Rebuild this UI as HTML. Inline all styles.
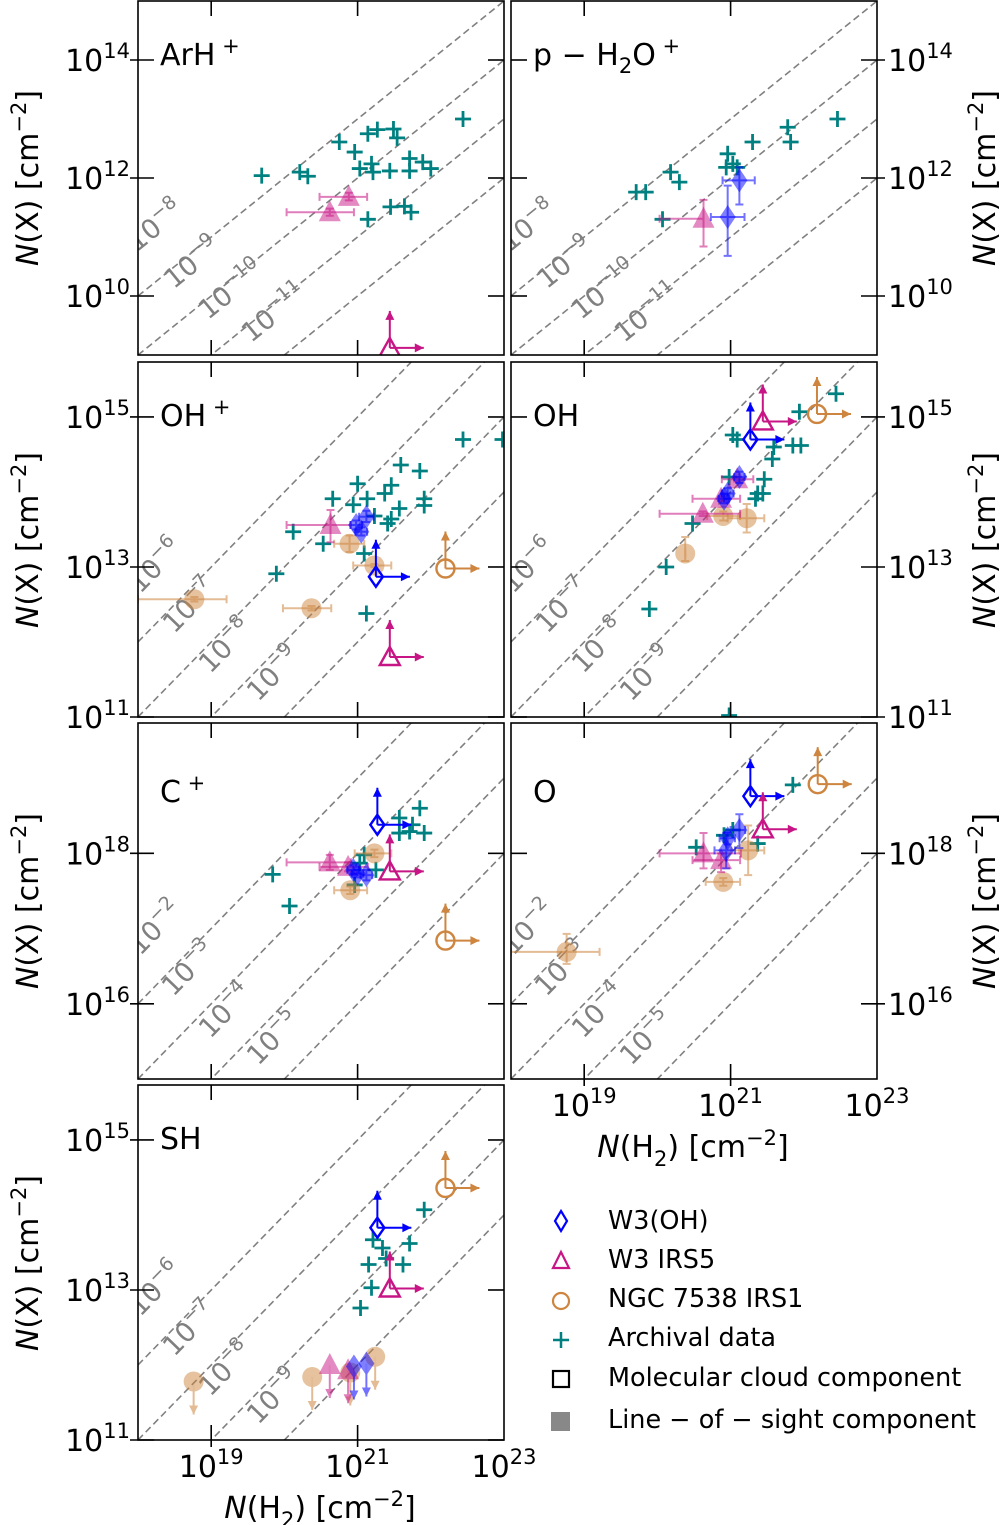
<!DOCTYPE html>
<html><head><meta charset="utf-8"><style>
html,body{margin:0;padding:0;background:#fff}
svg{display:block;font-family:"DejaVu Sans","Liberation Sans",sans-serif}
</style></head><body>
<svg id="fig" width="1000" height="1525" viewBox="0 0 1000 1525" xmlns="http://www.w3.org/2000/svg">
<g id="static">
  <text x="38" y="178" font-size="30" transform="rotate(-90 38 178)" text-anchor="middle"><tspan font-style="italic">N</tspan>(X) [cm<tspan dy="-12" font-size="21">−2</tspan><tspan dy="12">]</tspan></text>
  <text x="38" y="540" font-size="30" transform="rotate(-90 38 540)" text-anchor="middle"><tspan font-style="italic">N</tspan>(X) [cm<tspan dy="-12" font-size="21">−2</tspan><tspan dy="12">]</tspan></text>
  <text x="38" y="901" font-size="30" transform="rotate(-90 38 901)" text-anchor="middle"><tspan font-style="italic">N</tspan>(X) [cm<tspan dy="-12" font-size="21">−2</tspan><tspan dy="12">]</tspan></text>
  <text x="38" y="1263" font-size="30" transform="rotate(-90 38 1263)" text-anchor="middle"><tspan font-style="italic">N</tspan>(X) [cm<tspan dy="-12" font-size="21">−2</tspan><tspan dy="12">]</tspan></text>
  <text x="995" y="178" font-size="30" transform="rotate(-90 995 178)" text-anchor="middle"><tspan font-style="italic">N</tspan>(X) [cm<tspan dy="-12" font-size="21">−2</tspan><tspan dy="12">]</tspan></text>
  <text x="995" y="540" font-size="30" transform="rotate(-90 995 540)" text-anchor="middle"><tspan font-style="italic">N</tspan>(X) [cm<tspan dy="-12" font-size="21">−2</tspan><tspan dy="12">]</tspan></text>
  <text x="995" y="901" font-size="30" transform="rotate(-90 995 901)" text-anchor="middle"><tspan font-style="italic">N</tspan>(X) [cm<tspan dy="-12" font-size="21">−2</tspan><tspan dy="12">]</tspan></text>
  <text x="693" y="1157" font-size="30" text-anchor="middle"><tspan font-style="italic">N</tspan>(H<tspan dy="9" font-size="21">2</tspan><tspan dy="-9">) [cm</tspan><tspan dy="-12" font-size="21">−2</tspan><tspan dy="12">]</tspan></text>
  <text x="320" y="1518" font-size="30" text-anchor="middle"><tspan font-style="italic">N</tspan>(H<tspan dy="9" font-size="21">2</tspan><tspan dy="-9">) [cm</tspan><tspan dy="-12" font-size="21">−2</tspan><tspan dy="12">]</tspan></text>
</g>
<g id="legend" font-size="25.5">
  <g><polygon points="561,1211 567,1221 561,1231 555,1221" fill="none" stroke="#0000ff" stroke-width="2.2"/><text x="608" y="1229">W3(OH)</text></g>
  <g><polygon points="561,1252 569,1268 553,1268" fill="none" stroke="#c71585" stroke-width="2.2"/><text x="608" y="1268">W3 IRS5</text></g>
  <g><circle cx="561" cy="1301" r="8" fill="none" stroke="#cd853f" stroke-width="2.2"/><text x="608" y="1307">NGC 7538 IRS1</text></g>
  <g><path d="M553,1340 H569 M561,1332 V1348" stroke="#008080" stroke-width="2.5"/><text x="608" y="1346">Archival data</text></g>
  <g><rect x="553" y="1371" width="16" height="16" fill="none" stroke="#000" stroke-width="2.2"/><text x="608" y="1386">Molecular cloud component</text></g>
  <g><rect x="551" y="1412" width="19" height="19" fill="#888"/><text x="608" y="1428">Line − of − sight component</text></g>
</g>
<g id="panels"></g>
</svg>
<script>
// ---- data (log10 values). Series: [logNH2, logNX, xlo, xhi, ylo, yhi]
const arhArch = [[22.44,13.00],[21.14,12.75],[21.27,12.82],[21.49,12.83],[21.54,12.68],[20.75,12.61],[20.96,12.44],[21.03,12.16],[21.19,12.24],[21.21,12.10],[21.44,12.12],[21.71,12.33],[21.71,12.12],[21.89,12.27],[22.00,12.16],[20.21,12.10],[20.32,12.03],[19.69,12.04],[21.45,11.51],[21.64,11.52],[21.73,11.42],[21.14,11.30]];
const arhIrs5Los = [[20.88,11.68,20.48,21.13,11.62,11.75],[20.62,11.42,20.03,20.95,11.36,11.48]];
const arhIrs5Lim = [[21.44,9.12]];

const h2oArch = [[19.71,11.76],[19.84,11.76],[20.18,12.10],[20.30,11.93],[20.07,11.30],[20.96,12.41],[20.94,12.18],[21.03,12.24],[21.09,12.18],[21.30,12.61],[21.78,12.86],[21.82,12.61],[22.46,13.00]];
const h2oIrs5Los = [[20.63,11.31,20.03,20.63,10.84,11.63]];
const h2oW3ohLos = [[21.12,11.96,20.89,21.33,11.55,12.18],[20.96,11.34,20.73,21.19,10.68,11.87]];

const ohpArch = [[22.44,14.70],[22.98,14.70],[21.59,14.36],[21.85,14.28],[21.00,14.11],[21.46,14.09],[21.37,13.98],[20.66,13.91],[20.94,13.83],[21.13,13.91],[21.91,13.91],[21.91,13.82],[21.57,13.78],[21.23,13.68],[21.46,13.64],[21.41,13.58],[20.12,13.47],[20.53,13.31],[21.09,13.18],[19.89,12.91],[21.12,12.38]];
const ohpW3ohLos = [[20.98,13.56,20.90,21.06,13.50,13.62],[21.12,13.67,21.02,21.22,13.60,13.75],[21.05,13.47,20.97,21.13,13.42,13.53]];
const ohpIrs5Los = [[20.63,13.56,20.03,20.91,13.33,13.76]];
const ohpNgcLos = [[20.89,13.31,20.68,21.09,13.20,13.42],[21.23,13.02,20.94,21.46,13.0,13.04],[18.77,12.57,18.0,19.21,12.54,12.60],[20.37,12.45,19.98,20.64,12.42,12.48]];
const ohpW3ohLim = [[21.25,12.87]];
const ohpIrs5Lim = [[21.44,11.80]];
const ohpNgcLim = [[22.20,12.98]];

const ohArch = [[22.44,15.31],[21.94,15.07],[21.03,14.76],[21.09,14.70],[21.59,14.60],[21.85,14.62],[21.96,14.62],[21.57,14.44],[21.46,14.17],[21.37,13.98],[21.44,13.98],[21.34,13.91],[20.98,14.20],[20.48,13.58],[20.12,13.00],[19.89,12.44],[20.98,11.02]];
const ohW3ohLos = [[21.12,14.20,21.05,21.19,14.12,14.27],[20.96,13.98,20.88,21.04,13.91,14.05],[20.91,13.91,20.84,20.98,13.85,13.97]];
const ohIrs5Los = [[21.09,14.17,20.88,21.31,14.14,14.20],[20.87,13.91,20.48,21.13,13.88,13.94],[20.62,13.71,20.03,21.13,13.68,13.74]];
const ohNgcLos = [[20.90,13.68,20.68,21.13,13.62,13.74],[21.22,13.65,20.96,21.46,13.46,13.84],[20.38,13.18,20.38,20.38,13.08,13.40]];
const ohW3ohLim = [[21.27,14.70]];
const ohIrs5Lim = [[21.44,14.94]];
const ohNgcLim = [[22.18,15.04]];

const cpArch = [[21.85,18.60],[21.57,18.47],[21.75,18.38],[21.57,18.27],[21.71,18.29],[21.91,18.27],[19.84,17.72],[20.07,17.30],[21.09,17.98],[21.25,17.78],[21.03,17.87],[20.96,17.58]];
const cpW3ohLos = [[20.94,17.78,20.86,21.02,17.72,17.84],[21.12,17.71,21.04,21.20,17.64,17.78],[21.00,17.73,20.92,21.08,17.68,17.78]];
const cpIrs5Los = [[20.62,17.88,20.03,20.91,17.78,17.98],[20.87,17.82,20.48,21.14,17.76,17.88]];
const cpNgcLos = [[21.23,18.00,20.96,21.46,17.95,18.05],[20.90,17.51,20.68,21.13,17.46,17.56]];
const cpW3ohLim = [[21.27,18.38]];
const cpIrs5Lim = [[21.44,17.76]];
const cpNgcLim = [[22.20,16.84]];

const oArch = [[21.85,18.91],[21.37,18.13],[20.53,18.08],[20.91,18.24],[21.03,18.31]];
const oW3ohLos = [[21.12,18.31,21.00,21.20,18.07,18.52],[20.96,18.20,20.85,21.06,18.12,18.28],[20.94,18.04,20.78,21.06,17.80,18.27]];
const oIrs5Los = [[20.63,18.00,20.03,21.14,17.80,18.27],[20.87,17.91,20.48,21.13,17.75,18.00]];
const oNgcLos = [[21.24,18.04,21.01,21.46,17.71,18.37],[20.90,17.62,20.66,21.13,17.57,17.67],[18.76,16.69,18.00,19.21,16.53,16.93]];
const oW3ohLim = [[21.27,18.76]];
const oIrs5Lim = [[21.44,18.32]];
const oNgcLim = [[22.19,18.92]];

const shArch = [[21.91,14.07],[21.21,13.67],[21.71,13.62],[21.34,13.56],[21.39,13.42],[21.15,13.34],[21.62,13.34],[21.19,13.03],[21.04,12.76]];
const shW3ohLim = [[21.27,13.83]];
const shIrs5Lim = [[21.44,13.02]];
const shNgcLim = [[22.20,14.36]];
const shNgcUpper = [[18.76,11.78],[20.38,11.84],[21.24,12.11],[20.90,11.90]];
const shIrs5Upper = [[20.62,12.00],[20.87,11.93]];
const shW3ohUpper = [[20.95,11.98],[21.12,12.02]];

const rowYTicks = [[10,12,14],[11,13,15],[16,18],[11,13,15]];
const xTickVals = [19,21,23];

// ---- layout
const NS = 'http://www.w3.org/2000/svg';
const C = {w3oh:'#0000ff', irs5:'#c71585', ngc:'#cd853f', arch:'#008080'};
const panels = [
 {id:'arh', label:['ArH','+'], x0:138,y0:1,w:366,h:354,ymin:9,ymax:15,abund:[-8,-9,-10,-11],lab:[[161,233],[198,270],[237,297],[280,320]],left:true,right:false,row:0,
  arch:arhArch, los:{irs5:arhIrs5Los}, lim:{irs5:arhIrs5Lim}},
 {id:'h2o', label:['p − H','2','O','+'], x0:511,y0:1,w:366,h:354,ymin:9,ymax:15,abund:[-8,-9,-10,-11],lab:[[534,233],[571,270],[610,297],[653,320]],left:false,right:true,row:0,
  arch:h2oArch, los:{irs5:h2oIrs5Los,w3oh:h2oW3ohLos}, lim:{}},
 {id:'ohp', label:['OH','+'], x0:138,y0:362,w:366,h:355,ymin:11,ymax:15.733,abund:[-6,-7,-8,-9],lab:[[162,572],[196,612],[232,652],[280,680]],left:true,right:false,row:1,
  arch:ohpArch, los:{ngc:ohpNgcLos,irs5:ohpIrs5Los,w3oh:ohpW3ohLos}, lim:{w3oh:ohpW3ohLim,irs5:ohpIrs5Lim,ngc:ohpNgcLim}},
 {id:'oh', label:['OH'], x0:511,y0:362,w:366,h:355,ymin:11,ymax:15.733,abund:[-6,-7,-8,-9],lab:[[535,572],[569,612],[605,652],[653,680]],left:false,right:true,row:1,
  arch:ohArch, los:{ngc:ohNgcLos,irs5:ohIrs5Los,w3oh:ohW3ohLos}, lim:{w3oh:ohW3ohLim,irs5:ohIrs5Lim,ngc:ohNgcLim}},
 {id:'cp', label:['C','+'], x0:138,y0:723,w:366,h:356,ymin:15,ymax:19.733,abund:[-2,-3,-4,-5],lab:[[162,934],[195,975],[232,1017],[280,1044]],left:true,right:false,row:2,
  arch:cpArch, los:{ngc:cpNgcLos,irs5:cpIrs5Los,w3oh:cpW3ohLos}, lim:{w3oh:cpW3ohLim,irs5:cpIrs5Lim,ngc:cpNgcLim}},
 {id:'o', label:['O'], x0:511,y0:723,w:366,h:356,ymin:15,ymax:19.733,abund:[-2,-3,-4,-5],lab:[[535,934],[568,975],[605,1017],[653,1044]],left:false,right:true,row:2,bottomLabels:true,
  arch:oArch, los:{ngc:oNgcLos,irs5:oIrs5Los,w3oh:oW3ohLos}, lim:{w3oh:oW3ohLim,irs5:oIrs5Lim,ngc:oNgcLim}},
 {id:'sh', label:['SH'], x0:138,y0:1085,w:366,h:355,ymin:11,ymax:15.733,abund:[-6,-7,-8,-9],lab:[[162,1295],[196,1335],[232,1375],[280,1403]],left:true,right:false,row:3,bottomLabels:true,
  arch:shArch, los:{}, lim:{w3oh:shW3ohLim,irs5:shIrs5Lim,ngc:shNgcLim}, upper:{ngc:shNgcUpper,irs5:shIrs5Upper,w3oh:shW3ohUpper}}
];

function mk(tag, attrs, parent){
  const el = document.createElementNS(NS, tag);
  for (const k in attrs) el.setAttribute(k, attrs[k]);
  parent.appendChild(el);
  return el;
}
const root = document.getElementById('panels');
const defs = mk('defs', {}, root);

function markerShape(kind, x, y, g, fill, stroke, opacity){
  let el;
  const open = fill==='none';
  if (kind==='w3oh') el = mk('polygon',{points: open ? `${x},${y-10} ${x+7},${y} ${x},${y+10} ${x-7},${y}` : `${x},${y-12} ${x+8},${y} ${x},${y+12} ${x-8},${y}`},g);
  else if (kind==='irs5') el = mk('polygon',{points: open ? `${x},${y-10} ${x+10},${y+8} ${x-10},${y+8}` : `${x},${y-12} ${x+11},${y+9} ${x-11},${y+9}`},g);
  else el = mk('circle',{cx:x,cy:y,r:open?9:10},g);
  el.setAttribute('fill', fill);
  el.setAttribute('stroke', stroke);
  el.setAttribute('stroke-width', open?2.4:0);
  el.setAttribute('opacity', opacity);
  return el;
}
function arrow(g, x1,y1,x2,y2,col){
  const ln = mk('line',{x1,y1,x2,y2,stroke:col,'stroke-width':2},g);
  const dx=x2-x1, dy=y2-y1, L=Math.hypot(dx,dy), ux=dx/L, uy=dy/L;
  const bx=x2-ux*9, by=y2-uy*9;
  mk('polygon',{points:`${x2},${y2} ${bx-uy*4.5},${by+ux*4.5} ${bx+uy*4.5},${by-ux*4.5}`,fill:col},g);
  return ln;
}

panels.forEach(p=>{
  const X = v => p.x0 + (v-18)*p.w/5;
  const Y = v => p.y0 + (p.ymax-v)*p.h/(p.ymax-p.ymin);
  const g = mk('g',{},root);
  
  
  const cp = mk('clipPath',{id:'clip-'+p.id},defs);
  mk('rect',{x:p.x0,y:p.y0,width:p.w,height:p.h},cp);
  const inner = mk('g',{'clip-path':`url(#clip-${p.id})`},g);

  // abundance lines
  p.abund.forEach((a,i)=>{
    const ln = mk('line',{x1:X(18),y1:Y(18+a),x2:X(23),y2:Y(23+a),stroke:'#808080','stroke-width':1.6,'stroke-dasharray':'7,4'},inner);
    
    
    const ang = -Math.atan2(p.h/(p.ymax-p.ymin), p.w/5)*180/Math.PI;
    const [lx,ly] = p.lab[i];
    const t = mk('text',{x:lx,y:ly,'font-size':27,fill:'#808080','text-anchor':'middle',transform:`rotate(${ang} ${lx} ${ly})`},inner);
    t.innerHTML = `10<tspan dy="-12" font-size="19">−${-a}</tspan>`;
    
    
  });

  // archival
  p.arch.forEach(d=>{
    const x=X(d[0]), y=Y(d[1]);
    const pl = mk('path',{d:`M${x-8},${y} H${x+8} M${x},${y-8} V${y+8}`,stroke:C.arch,'stroke-width':2.8},inner);
    
    
  });

  // line-of-sight (filled, with error bars)
  Object.keys(p.los).forEach(k=>{
    p.los[k].forEach(d=>{
      const x=X(d[0]), y=Y(d[1]);
      const eg = mk('g',{stroke:C[k],'stroke-width':2,opacity:0.55},inner);
      if (d[2]!=null){ const a=X(d[2]), b=X(d[3]);
        mk('path',{d:`M${a},${y} H${b} M${a},${y-4} V${y+4} M${b},${y-4} V${y+4}`},eg);}
      if (d[4]!=null){ const a=Y(d[4]), b=Y(d[5]);
        mk('path',{d:`M${x},${a} V${b} M${x-4},${a} H${x+4} M${x-4},${b} H${x+4}`},eg);}
      const m = markerShape(k,x,y,inner,C[k],'none',0.5);
      
      
    });
  });

  // lower limits (open markers, up & right arrows)
  Object.keys(p.lim).forEach(k=>{
    p.lim[k].forEach(d=>{
      const x=X(d[0]), y=Y(d[1]);
      const lg = mk('g',{},inner);
      
      
      arrow(lg,x,y,x,y-37,C[k]);
      arrow(lg,x,y,x+34,y,C[k]);
      markerShape(k,x,y,lg,'none',C[k],1);
    });
  });

  // upper limits (filled, down arrows)
  if (p.upper) Object.keys(p.upper).forEach(k=>{
    p.upper[k].forEach(d=>{
      const x=X(d[0]), y=Y(d[1]);
      const ug = mk('g',{opacity:0.55},inner);
      
      
      arrow(ug,x,y,x,y+33,C[k]);
      markerShape(k,x,y,ug,C[k],'none',0.9);
    });
  });

  // frame
  const fr = mk('rect',{x:p.x0,y:p.y0,width:p.w,height:p.h,fill:'none',stroke:'#000','stroke-width':1.6},g);
  
  

  // panel title
  const tt = mk('text',{x:p.x0+22,y:p.y0+(p.row===2?79:64),'font-size':30},g);
  let html = '';
  if (p.label.length===1) html = p.label[0];
  else if (p.label.length===2) html = `${p.label[0]}<tspan dy="-12" font-size="21"> ${p.label[1]}</tspan>`;
  else html = `${p.label[0]}<tspan dy="8" font-size="21">${p.label[1]}</tspan><tspan dy="-8">${p.label[2]}</tspan><tspan dy="-12" font-size="21"> ${p.label[3]}</tspan>`;
  tt.innerHTML = html;
  
  

  // x ticks
  [19,21].forEach(v=>{
    const x=X(v);
    mk('line',{x1:x,y1:p.y0,x2:x,y2:p.y0+15,stroke:'#000','stroke-width':1.6},g);
    mk('line',{x1:x,y1:p.y0+p.h-15,x2:x,y2:p.y0+p.h+(p.bottomLabels?7:0),stroke:'#000','stroke-width':1.6},g);
  });
  if (p.bottomLabels){
    xTickVals.forEach(v=>{
      const t = mk('text',{x:X(v),y:p.y0+p.h+37,'font-size':30,'text-anchor':'middle'},g);
      t.innerHTML = `10<tspan dy="-13" font-size="21">${v}</tspan>`;
      
      
    });
  }
  // y ticks
  rowYTicks[p.row].forEach(v=>{
    const y=Y(v);
    mk('line',{x1:p.x0-(p.left?8:0),y1:y,x2:p.x0+16,y2:y,stroke:'#000','stroke-width':1.6},g);
    mk('line',{x1:p.x0+p.w-16,y1:y,x2:p.x0+p.w+(p.right?8:0),y2:y,stroke:'#000','stroke-width':1.6},g);
    if (p.left){
      const t = mk('text',{x:p.x0-8,y:y+11,'font-size':30,'text-anchor':'end'},g);
      t.innerHTML = `10<tspan dy="-13" font-size="21">${v}</tspan>`;
      
      
    }
    if (p.right){
      const t = mk('text',{x:p.x0+p.w+11,y:y+11,'font-size':30},g);
      t.innerHTML = `10<tspan dy="-13" font-size="21">${v}</tspan>`;
      
      
    }
  });
});
</script>
</body></html>
